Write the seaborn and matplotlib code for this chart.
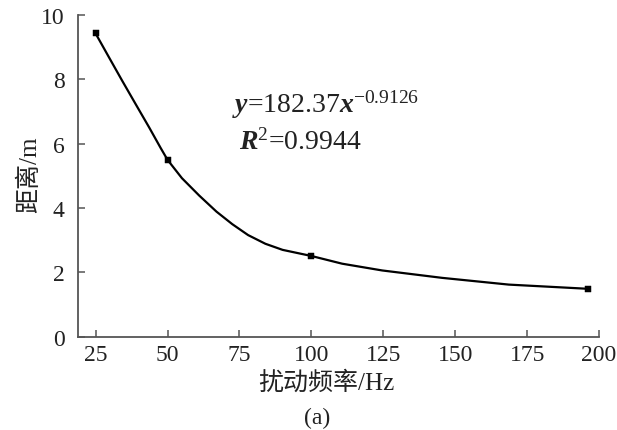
import matplotlib
matplotlib.use("Agg")
import matplotlib.pyplot as plt
import seaborn as sns
import pandas as pd

# measured points
freq_pts = [25, 50, 100, 196]
dist_pts = [9.43, 5.50, 2.51, 1.49]

# smoothed curve
curve_x = [25, 29.7, 34.3, 39.0, 43.6, 47.6, 50, 55, 61, 67, 72.5, 78, 84, 90, 100,
           110.7, 124.6, 145.4, 168.6, 196]
curve_y = [9.43, 8.68, 7.95, 7.22, 6.51, 5.87, 5.50, 4.93, 4.39, 3.89, 3.50, 3.16, 2.89,
           2.70, 2.51, 2.27, 2.06, 1.83, 1.62, 1.49]

x_ticks = [25, 50, 75, 100, 125, 150, 175, 200]
y_ticks = [0, 2, 4, 6, 8, 10]

sns.set_style("ticks")
plt.rcParams['font.family'] = ['Liberation Serif', 'Noto Sans CJK SC']
plt.rcParams['mathtext.fontset'] = 'custom'
plt.rcParams['mathtext.rm'] = 'Liberation Serif'
plt.rcParams['mathtext.it'] = 'Liberation Serif:italic'
plt.rcParams['mathtext.bf'] = 'Liberation Serif:bold'
plt.rcParams['mathtext.bfit'] = 'Liberation Serif:italic:bold'

fig = plt.figure(figsize=(6.17, 4.31), dpi=100)
ax = fig.add_axes([0.127, 0.2165, 0.844, 0.746])

curve = pd.DataFrame({"f": curve_x, "d": curve_y})
pts = pd.DataFrame({"f": freq_pts, "d": dist_pts})
sns.lineplot(data=curve, x="f", y="d", ax=ax, color="black", linewidth=1.6, sort=False)
sns.scatterplot(data=pts, x="f", y="d", ax=ax, color="black", marker="s", s=18,
                edgecolor="black", zorder=3)

ax.set_xlim(19, 200)
ax.set_ylim(0, 10)
ax.set_xticks(x_ticks)
ax.set_yticks(y_ticks)
for s in ["top", "right"]:
    ax.spines[s].set_visible(False)
for s in ["left", "bottom"]:
    ax.spines[s].set_color("#555555")
    ax.spines[s].set_linewidth(1.3)
ax.tick_params(direction="in", length=5, width=1.1, color="#555555",
               labelsize=17, labelcolor="#222222")
ax.tick_params(axis="y", pad=10)
ax.tick_params(axis="x", pad=5)

ax.set_xlabel("扰动频率/Hz", fontsize=18, color="#222222")
ax.set_ylabel("距离/m", fontsize=18, color="#222222")
ax.xaxis.set_label_coords(0.476, -0.105)
ax.yaxis.set_label_coords(-0.072, 0.506)

ax.text(0.295, 0.724, r"$\mathbfit{y}$=182.37$\mathbfit{x}^{\mathrm{-0.9126}}$",
        transform=ax.transAxes, fontsize=20, va="center", ha="left", color="#222222")
ax.text(0.308, 0.606, r"$\mathbfit{R}^{\mathrm{2}}$=0.9944",
        transform=ax.transAxes, fontsize=20, va="center", ha="left", color="#222222")

fig.text(0.514, 0.03, "(a)", fontsize=17, ha="center", va="center", color="#222222")

fig.savefig("out.png", dpi=100)
